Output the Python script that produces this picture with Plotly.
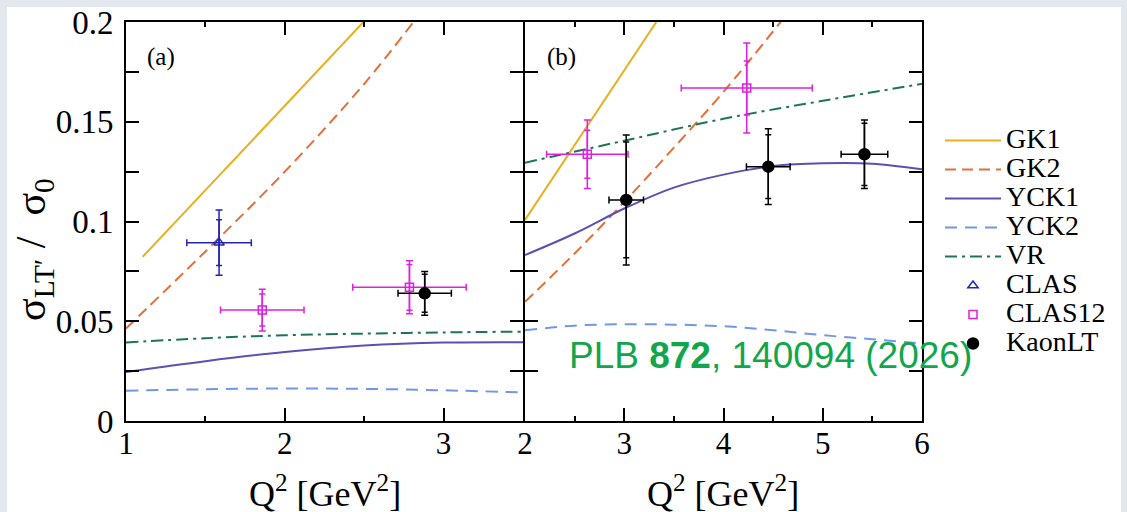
import plotly.graph_objects as go

# ---------------- data: panel (a) ----------------
gk1_a_x = [1.105, 1.5, 2.0, 2.495]
gk1_a_y = [0.0823, 0.1157, 0.158, 0.2]
gk2_a_x = [1.0, 1.5, 2.0, 2.5, 2.81]
gk2_a_y = [0.0464, 0.085, 0.125, 0.169, 0.2]
curve_a_x = [1.0, 1.5, 2.0, 2.5, 3.0, 3.5]
yck1_a_y = [0.0246, 0.0300, 0.0346, 0.0378, 0.0393, 0.0395]
yck2_a_y = [0.0152, 0.0159, 0.0163, 0.0161, 0.0154, 0.0143]
vr_a_y = [0.0394, 0.0415, 0.0430, 0.0438, 0.0444, 0.0448]

clas_x = [1.586]
clas_y = [0.0894]
clas_xerr = [0.203]
clas_tot = [0.0164]
clas_stat = [0.0115]

clas12_a_x = [1.858, 2.785]
clas12_a_y = [0.0556, 0.067]
clas12_a_xerr = [0.263, 0.357]
clas12_a_tot = [0.0105, 0.0133]
clas12_a_stat = [0.0080, 0.0115]

klt_a_x = [2.881]
klt_a_y = [0.064]
klt_a_xerr = [0.168]
klt_a_tot = [0.0110]
klt_a_stat = [0.0095]

# ---------------- data: panel (b) ----------------
gk1_b_x = [2.0, 3.323]
gk1_b_y = [0.1008, 0.2]
gk2_b_x = [2.0, 2.5, 3.0, 3.5, 4.0, 4.576]
gk2_b_y = [0.0597, 0.084, 0.1098, 0.137, 0.165, 0.2]
vr_b_x = [2.0, 3.0, 4.0, 5.0, 6.0]
vr_b_y = [0.1295, 0.1405, 0.1515, 0.1605, 0.169]
curve_b_x = [2.0, 2.5, 3.0, 3.5, 4.0, 4.5, 5.0, 5.5, 6.0]
yck1_b_y = [0.0832, 0.094, 0.1065, 0.117, 0.1235, 0.1278, 0.1292, 0.129, 0.1262]
yck2_b_y = [0.0455, 0.0478, 0.0485, 0.0483, 0.0475, 0.0455, 0.043, 0.041, 0.0388]

clas12_b_x = [2.628, 4.234]
clas12_b_y = [0.1337, 0.1669]
clas12_b_xerr = [0.41, 0.66]
clas12_b_tot = [0.0172, 0.0226]
clas12_b_stat = [0.0120, 0.0135]

klt_b_x = [3.02, 4.451, 5.42]
klt_b_y = [0.1108, 0.1275, 0.1337]
klt_b_xerr = [0.174, 0.22, 0.235]
klt_b_tot = [0.0326, 0.0190, 0.0172]
klt_b_stat = [0.0290, 0.0160, 0.0156]

# ---------------- ticks ----------------
y_tickvals = [0, 0.05, 0.1, 0.15, 0.2]
y_ticktext = ["0", "0.05", "0.1", "0.15", "0.2"]
y_minorvals = [0.025, 0.075, 0.125, 0.175]
xa_tickvals = [1, 2, 3]
xa_minorvals = [1.5, 2.5, 3.5]
xb_tickvals = [2, 3, 4, 5, 6]
xb_minorvals = [2.5, 3.5, 4.5, 5.5]

legend_names = ["GK1", "GK2", "YCK1", "YCK2", "VR", "CLAS", "CLAS12", "KaonLT"]

# ---------------- styles ----------------
C_GK1 = "#e6b020"
C_GK2 = "#e2703a"
C_YCK1 = "#5b50b4"
C_YCK2 = "#7396e6"
C_VR = "#1d7458"
C_CLAS = "#2424b0"
C_CLAS12 = "#e020e0"
C_KLT = "#000000"
SERIF = "Liberation Serif"

W, H = 1127, 512
L, R, T, B = 126, 205, 22, 91
PW, PH = W - L - R, H - T - B


def px_x(p):
    return (p - L) / PW


def px_y(p):
    return (H - B - p) / PH


def lname(n):
    return '<span style="font-size:28px">%s</span>' % n


fig = go.Figure()


def line(x, y, color, dash, name, xa, ya, show):
    fig.add_trace(go.Scatter(
        x=x, y=y, mode="lines", name=lname(name), showlegend=show,
        line=dict(color=color, width=2, dash=dash, shape="spline"),
        xaxis=xa, yaxis=ya, hoverinfo="skip"))


def points(x, y, xerr, tot, stat, color, symbol, size, name, xa, ya, show):
    fig.add_trace(go.Scatter(
        x=x, y=y, mode="markers", showlegend=False,
        marker=dict(size=1, color="rgba(0,0,0,0)"),
        error_y=dict(type="data", array=stat, color=color, thickness=1.5, width=3),
        xaxis=xa, yaxis=ya, hoverinfo="skip"))
    fig.add_trace(go.Scatter(
        x=x, y=y, mode="markers", name=lname(name), showlegend=show,
        marker=dict(size=size, color=color, symbol=symbol,
                    line=dict(color=color, width=1.5)),
        error_y=dict(type="data", array=tot, color=color, thickness=1.5, width=3.5),
        error_x=dict(type="data", array=xerr, color=color, thickness=1.5, width=3.5),
        xaxis=xa, yaxis=ya, hoverinfo="skip"))


DASH_GK2 = "11px,6px"
DASH_YCK2 = "12px,8px"
DASH_VR = "12px,5px,3px,5px"

# panel a lines (legend entries)
line(gk1_a_x, gk1_a_y, C_GK1, "solid", legend_names[0], "x", "y", True)
line(gk2_a_x, gk2_a_y, C_GK2, DASH_GK2, legend_names[1], "x", "y", True)
line(curve_a_x, yck1_a_y, C_YCK1, "solid", legend_names[2], "x", "y", True)
line(curve_a_x, yck2_a_y, C_YCK2, DASH_YCK2, legend_names[3], "x", "y", True)
line(curve_a_x, vr_a_y, C_VR, DASH_VR, legend_names[4], "x", "y", True)
# panel b lines
line(gk1_b_x, gk1_b_y, C_GK1, "solid", legend_names[0], "x2", "y2", False)
line(gk2_b_x, gk2_b_y, C_GK2, DASH_GK2, legend_names[1], "x2", "y2", False)
line(curve_b_x, yck1_b_y, C_YCK1, "solid", legend_names[2], "x2", "y2", False)
line(curve_b_x, yck2_b_y, C_YCK2, DASH_YCK2, legend_names[3], "x2", "y2", False)
line(vr_b_x, vr_b_y, C_VR, DASH_VR, legend_names[4], "x2", "y2", False)

# data points
points(clas_x, clas_y, clas_xerr, clas_tot, clas_stat, C_CLAS, "triangle-up-open", 9,
       legend_names[5], "x", "y", True)
points(clas12_a_x, clas12_a_y, clas12_a_xerr, clas12_a_tot, clas12_a_stat, C_CLAS12,
       "square-open", 8, legend_names[6], "x", "y", True)
points(klt_a_x, klt_a_y, klt_a_xerr, klt_a_tot, klt_a_stat, C_KLT, "circle", 11,
       legend_names[7], "x", "y", True)
points(clas12_b_x, clas12_b_y, clas12_b_xerr, clas12_b_tot, clas12_b_stat, C_CLAS12,
       "square-open", 8, legend_names[6], "x2", "y2", False)
points(klt_b_x, klt_b_y, klt_b_xerr, klt_b_tot, klt_b_stat, C_KLT, "circle", 11,
       legend_names[7], "x2", "y2", False)

axis_common = dict(
    showline=True, linecolor="black", linewidth=2, mirror="allticks",
    ticks="inside", ticklen=13, tickwidth=1.5, tickcolor="black",
    showgrid=False, zeroline=False, automargin=False,
)
xfont = dict(family=SERIF, size=31, color="black")
yfont = dict(family=SERIF, size=33, color="black")

fig.update_layout(
    width=W, height=H,
    margin=dict(l=L, r=R, t=T, b=B, autoexpand=False),
    paper_bgcolor="#e3e8ee",
    plot_bgcolor="white",
    font=dict(family=SERIF, color="black"),
    xaxis=dict(domain=[0, px_x(523)], range=[1, 3.5], tickmode="array", tickvals=xa_tickvals,
               minor=dict(ticks="inside", ticklen=5, tickwidth=1.5, tickcolor="black",
                          tickmode="array", tickvals=xa_minorvals),
               anchor="y", ticklabelstandoff=-6, tickfont=xfont, **axis_common),
    xaxis2=dict(domain=[px_x(525), 1], range=[2, 6], tickmode="array", tickvals=xb_tickvals,
                minor=dict(ticks="inside", ticklen=5, tickwidth=1.5, tickcolor="black",
                           tickmode="array", tickvals=xb_minorvals),
                anchor="y2", ticklabelstandoff=-6, tickfont=xfont, **axis_common),
    yaxis=dict(range=[0, 0.2], tickmode="array", tickvals=y_tickvals, ticktext=y_ticktext,
               minor=dict(ticks="inside", ticklen=13, tickwidth=1.5, tickcolor="black",
                          tickmode="array", tickvals=y_minorvals),
               anchor="x", ticklabelstandoff=4, tickfont=yfont, **axis_common),
    yaxis2=dict(range=[0, 0.2], tickmode="array", tickvals=y_tickvals, showticklabels=False,
                minor=dict(ticks="inside", ticklen=13, tickwidth=1.5, tickcolor="black",
                           tickmode="array", tickvals=y_minorvals),
                anchor="x2", tickfont=yfont, **axis_common),
    legend=dict(xref="container", yref="container", x=940 / W, y=1 - 121 / H,
                xanchor="left", yanchor="top", bgcolor="rgba(0,0,0,0)",
                font=dict(family=SERIF, size=20, color="black"),
                tracegroupgap=0, itemwidth=56),
    showlegend=True,
)

# white slide area behind the figure
fig.add_shape(type="rect", xref="paper", yref="paper", layer="below",
              x0=px_x(7), x1=px_x(1121), y0=px_y(520), y1=px_y(7),
              fillcolor="white", line=dict(width=0))

# axis titles
fig.add_annotation(xref="paper", yref="paper", x=px_x(34), y=px_y(250),
                   xanchor="center", yanchor="middle", textangle=-90, showarrow=False,
                   text="σ<sub>LT′</sub> /\u00a0\u00a0σ<sub>0</sub>",
                   font=dict(family=SERIF, size=42, color="black"))
for xc in (325, 723):
    fig.add_annotation(xref="paper", yref="paper", x=px_x(xc), y=px_y(491),
                       xanchor="center", yanchor="middle", showarrow=False,
                       text="Q<sup>2</sup> [GeV<sup>2</sup>]",
                       font=dict(family=SERIF, size=36, color="black"))
# panel labels
fig.add_annotation(xref="x", yref="y", x=1.22, y=0.1826, text="(a)", showarrow=False,
                   font=dict(family=SERIF, size=25, color="black"))
fig.add_annotation(xref="x2", yref="y2", x=2.37, y=0.1826, text="(b)", showarrow=False,
                   font=dict(family=SERIF, size=25, color="black"))
# reference note
fig.add_annotation(xref="x2", yref="y2", x=2.426, y=0.033, xanchor="left", yanchor="middle",
                   text="PLB <b>872</b>, 140094 (2026)", showarrow=False,
                   font=dict(family="Liberation Sans", size=37, color="#12a64c"))

fig.write_html("out.html", config={"displayModeBar": False},
               post_script="document.body.style.margin='0';"
                           "document.body.style.overflow='hidden';")
